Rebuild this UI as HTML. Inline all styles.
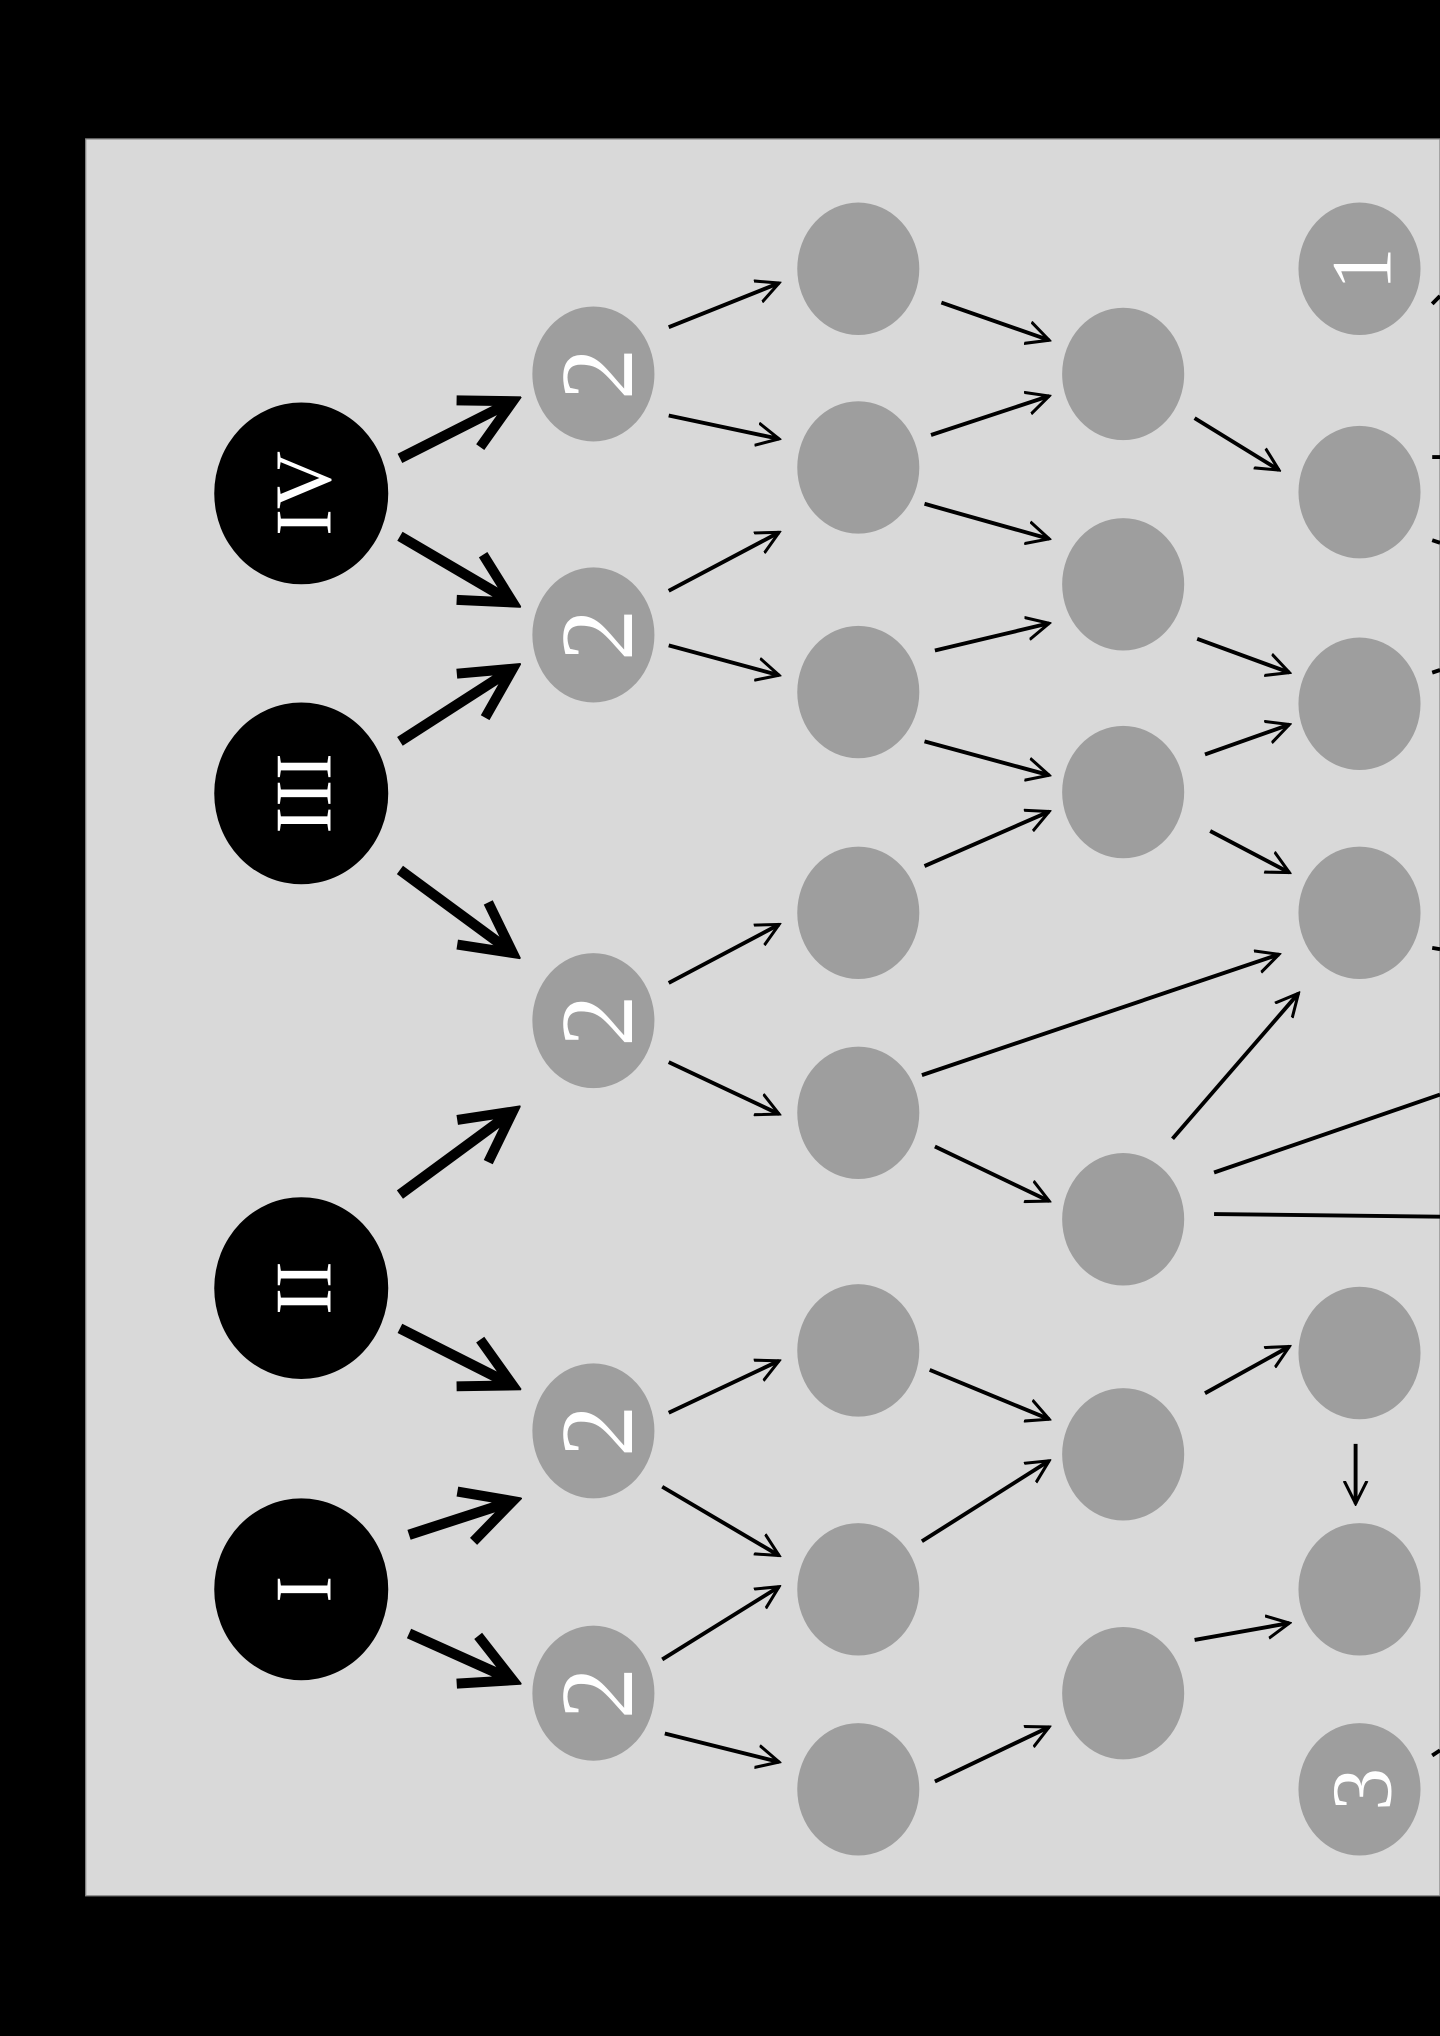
<!DOCTYPE html>
<html><head><meta charset="utf-8"><style>
html,body{margin:0;padding:0;background:#000;}
svg{display:block;}
</style></head><body>
<svg width="1440" height="2036" viewBox="0 0 1109 1568" preserveAspectRatio="none" xmlns="http://www.w3.org/2000/svg">
<defs>
<marker id="a" viewBox="0 0 10 10" refX="9" refY="5" markerWidth="6.5" markerHeight="6.5" markerUnits="strokeWidth" orient="auto">
<path d="M0,0.5 L9,5 L0,9.5" fill="none" stroke="#000" stroke-width="1.2"/>
</marker>
<marker id="b" viewBox="0 0 10 10" refX="8.5" refY="5" markerWidth="6" markerHeight="6" markerUnits="strokeWidth" orient="auto">
<path d="M0.5,0.8 L8.5,5 L0.5,9.2" fill="none" stroke="#000" stroke-width="1.6"/>
</marker>
</defs>
<rect x="0" y="0" width="1109" height="1568" fill="#000"/>
<rect x="66" y="107" width="1043" height="1353" fill="#d9d9d9" stroke="#888" stroke-width="1"/>

<g fill="#000">
<ellipse cx="232" cy="380" rx="67" ry="70"/>
<ellipse cx="232" cy="611" rx="67" ry="70"/>
<ellipse cx="232" cy="992" rx="67" ry="70"/>
<ellipse cx="232" cy="1224" rx="67" ry="70"/>
</g>
<g fill="#9e9e9e">
<ellipse cx="457" cy="288" rx="47" ry="52"/>
<ellipse cx="457" cy="489" rx="47" ry="52"/>
<ellipse cx="457" cy="786" rx="47" ry="52"/>
<ellipse cx="457" cy="1102" rx="47" ry="52"/>
<ellipse cx="457" cy="1304" rx="47" ry="52"/>

<ellipse cx="661" cy="207" rx="47" ry="51"/>
<ellipse cx="661" cy="360" rx="47" ry="51"/>
<ellipse cx="661" cy="533" rx="47" ry="51"/>
<ellipse cx="661" cy="703" rx="47" ry="51"/>
<ellipse cx="661" cy="857" rx="47" ry="51"/>
<ellipse cx="661" cy="1040" rx="47" ry="51"/>
<ellipse cx="661" cy="1224" rx="47" ry="51"/>
<ellipse cx="661" cy="1378" rx="47" ry="51"/>

<ellipse cx="865" cy="288" rx="47" ry="51"/>
<ellipse cx="865" cy="450" rx="47" ry="51"/>
<ellipse cx="865" cy="610" rx="47" ry="51"/>
<ellipse cx="865" cy="939" rx="47" ry="51"/>
<ellipse cx="865" cy="1120" rx="47" ry="51"/>
<ellipse cx="865" cy="1304" rx="47" ry="51"/>

<ellipse cx="1047" cy="207" rx="47" ry="51"/>
<ellipse cx="1047" cy="379" rx="47" ry="51"/>
<ellipse cx="1047" cy="542" rx="47" ry="51"/>
<ellipse cx="1047" cy="703" rx="47" ry="51"/>
<ellipse cx="1047" cy="1042" rx="47" ry="51"/>
<ellipse cx="1047" cy="1224" rx="47" ry="51"/>
<ellipse cx="1047" cy="1378" rx="47" ry="51"/>
</g>

<g fill="#fff" font-family="'Liberation Serif', serif" text-anchor="middle" dominant-baseline="central">
<text transform="translate(234,380) rotate(-90)" font-size="62">IV</text>
<text transform="translate(234,611) rotate(-90)" font-size="62">III</text>
<text transform="translate(234,992) rotate(-90)" font-size="62">II</text>
<text transform="translate(234,1224) rotate(-90)" font-size="62">I</text>
<text transform="translate(460,288) rotate(-90)" font-size="80">2</text>
<text transform="translate(460,489) rotate(-90)" font-size="80">2</text>
<text transform="translate(460,786) rotate(-90)" font-size="80">2</text>
<text transform="translate(460,1102) rotate(-90)" font-size="80">2</text>
<text transform="translate(460,1304) rotate(-90)" font-size="80">2</text>
<text transform="translate(1049,207) rotate(-90)" font-size="66">1</text>
<text transform="translate(1049,1378) rotate(-90)" font-size="66">3</text>
</g>

<g stroke="#000" stroke-width="8" fill="none" marker-end="url(#b)">
<line x1="308" y1="353" x2="395" y2="309"/>
<line x1="308" y1="413" x2="395" y2="464"/>
<line x1="308" y1="571" x2="395" y2="515"/>
<line x1="308" y1="670" x2="395" y2="734"/>
<line x1="308" y1="920" x2="395" y2="856"/>
<line x1="308" y1="1023" x2="395" y2="1067"/>
<line x1="315" y1="1182" x2="395" y2="1156"/>
<line x1="315" y1="1258" x2="395" y2="1294"/>
</g>

<g stroke="#000" stroke-width="3" fill="none" marker-end="url(#a)">
<line x1="515" y1="252" x2="600" y2="218"/>
<line x1="515" y1="320" x2="600" y2="338"/>
<line x1="515" y1="455" x2="600" y2="410"/>
<line x1="515" y1="497" x2="600" y2="520"/>
<line x1="515" y1="757" x2="600" y2="712"/>
<line x1="515" y1="818" x2="600" y2="858"/>
<line x1="515" y1="1088" x2="600" y2="1048"/>
<line x1="510" y1="1145" x2="600" y2="1198"/>
<line x1="510" y1="1278" x2="600" y2="1222"/>
<line x1="512" y1="1335" x2="600" y2="1357"/>

<line x1="725" y1="233" x2="808" y2="262"/>
<line x1="717" y1="335" x2="808" y2="305"/>
<line x1="712" y1="388" x2="808" y2="415"/>
<line x1="720" y1="501" x2="808" y2="480"/>
<line x1="712" y1="571" x2="808" y2="597"/>
<line x1="712" y1="667" x2="808" y2="625"/>
<line x1="710" y1="828" x2="985" y2="735"/>
<line x1="720" y1="883" x2="808" y2="925"/>
<line x1="716" y1="1055" x2="808" y2="1093"/>
<line x1="710" y1="1187" x2="808" y2="1125"/>
<line x1="720" y1="1372" x2="808" y2="1330"/>

<line x1="920" y1="322" x2="985" y2="362"/>
<line x1="922" y1="492" x2="993" y2="518"/>
<line x1="928" y1="581" x2="993" y2="558"/>
<line x1="932" y1="640" x2="993" y2="672"/>
<line x1="903" y1="877" x2="1000" y2="765"/>
<line x1="928" y1="1073" x2="993" y2="1037"/>
<line x1="920" y1="1263" x2="993" y2="1250"/>
<line x1="1044" y1="1112" x2="1044" y2="1158"/>
</g>
<g stroke="#000" stroke-width="3" fill="none">
<line x1="935" y1="903" x2="1109" y2="843"/>
<line x1="935" y1="935" x2="1109" y2="937"/>
<line x1="1103" y1="234" x2="1109" y2="228"/>
<line x1="1103" y1="352" x2="1109" y2="352"/>
<line x1="1103" y1="416" x2="1109" y2="418"/>
<line x1="1103" y1="518" x2="1109" y2="516"/>
<line x1="1103" y1="730" x2="1109" y2="731"/>
<line x1="1103" y1="1352" x2="1109" y2="1348"/>
</g>
</svg>
</body></html>
